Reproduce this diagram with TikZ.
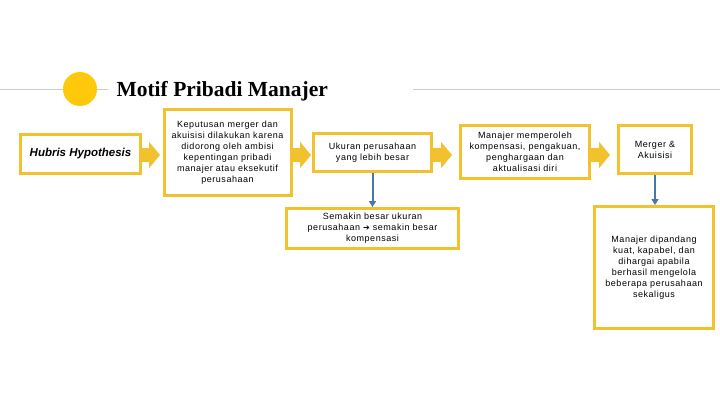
\documentclass[tikz,border=0pt]{standalone}
\usepackage{fontspec}
\setmainfont{Liberation Sans}[LetterSpace=6]
\newfontfamily\titlefont{Liberation Serif}
\newfontfamily\symfont{DejaVu Sans}
\usetikzlibrary{arrows.meta}
\definecolor{gold}{HTML}{F2C12E}
\definecolor{sun}{HTML}{FDC90A}
\definecolor{steel}{HTML}{4A78A6}
\definecolor{rule}{HTML}{CCCCCC}
\begin{document}
\begin{tikzpicture}[x=1pt, y=-1pt,
  box/.style={draw=gold, line width=3pt, fill=white, align=center, inner sep=2pt,
    font=\fontsize{9}{11}\selectfont},
  fat/.style={gold, line width=14pt, -{Triangle[length=11pt,width=26pt]}},
  down/.style={steel, line width=2pt, -{Triangle[length=6pt,width=7pt]}}]
  \useasboundingbox (0,0) rectangle (720,405);

  \draw[rule, line width=0.8pt] (0,89) -- (108,89);
  \draw[rule, line width=0.8pt] (413,89) -- (720,89);
  \fill[sun] (80,89) circle (17);
  \node[anchor=west, font=\titlefont\fontsize{21.5}{24}\selectfont\bfseries] (title) at (113,91) {Motif Pribadi Manajer};

  \node[box, minimum width=120, minimum height=39,
    font=\fontsize{11.5}{12}\selectfont\bfseries\itshape\addfontfeature{LetterSpace=0}] (hubris) at (80.5,154) {Hubris Hypothesis};
  \node[box, minimum width=127, minimum height=86] (motif) at (227.5,152.5)
    {Keputusan merger dan\\akuisisi dilakukan karena\\didorong oleh ambisi\\kepentingan pribadi\\manajer atau eksekutif\\perusahaan};
  \node[box, minimum width=118, minimum height=38] (ukuran) at (372.5,152.5)
    {Ukuran perusahaan\\yang lebih besar};
  \node[box, minimum width=129, minimum height=53] (kompen) at (525,152)
    {Manajer memperoleh\\kompensasi, pengakuan,\\penghargaan dan\\aktualisasi diri};
  \node[box, minimum width=73, minimum height=48] (merger) at (655,149.5)
    {Merger \&\\Akuisisi};
  \node[box, minimum width=172, minimum height=40] (besar) at (372.5,228.5)
    {Semakin besar ukuran\\perusahaan {\symfont\fontsize{8}{11}\selectfont ➔} semakin besar\\kompensasi};
  \node[box, minimum width=119, minimum height=122] (kuat) at (654,267.5)
    {Manajer dipandang\\kuat, kapabel, dan\\dihargai apabila\\berhasil mengelola\\beberapa perusahaan\\sekaligus};

  \coordinate (row) at (0,155);
  \draw[fat, shorten >=2.5pt] (hubris.east |- row) -- (motif.west |- row);
  \draw[fat, shorten >=1pt] (motif.east |- row) -- (ukuran.west |- row);
  \draw[fat, shorten >=7pt] (ukuran.east |- row) -- (kompen.west |- row);
  \draw[fat, shorten >=7pt] (kompen.east |- row) -- (merger.west |- row);

  \draw[down] (ukuran.south) -- (besar.north);
  \draw[down] (merger.south) -- (kuat.north -| merger.south);
\end{tikzpicture}
\end{document}
